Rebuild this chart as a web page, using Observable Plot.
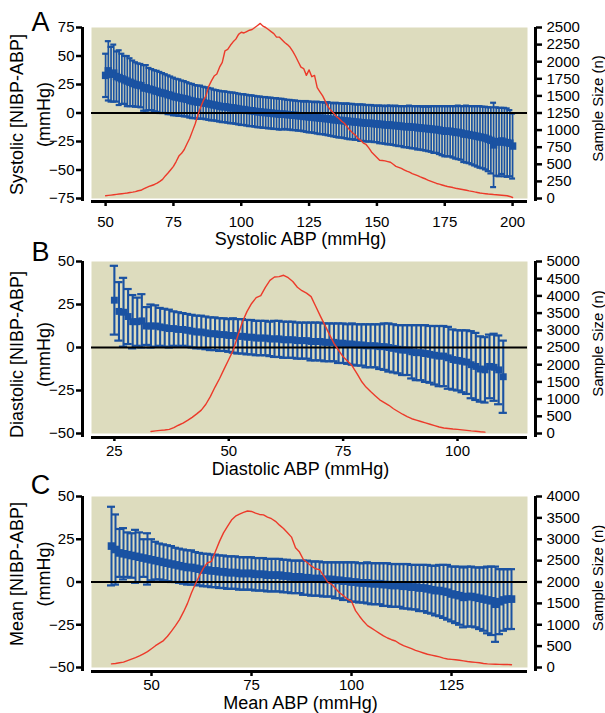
<!DOCTYPE html>
<html><head><meta charset="utf-8">
<script src="https://cdn.jsdelivr.net/npm/d3@7"></script>
<script src="https://cdn.jsdelivr.net/npm/@observablehq/plot@0.6"></script>
<style>
body{margin:0;background:#fff;}
#fig{position:relative;width:605px;height:713px;font-family:Arial,"Liberation Sans",sans-serif;}
#fig svg{position:absolute;left:0;overflow:visible;}
</style></head><body><div id="fig"></div>
<script>
// ---------- Panel A: Systolic ----------
const sysStart = 50;
const sysMean = [33,37,34,35,32,31,30,29,28,27, 26,25,24.5,24,22,22,21,20.5,19.5,19, 18,17.5,17,16,15.5,14.5,14,13.5,13,12.5,
 12,11,10.5,10,9.5,9.5,9,8.5,8,7.5, 7,6.5,6,5.5,5.5,5,4.5,4.5,4,3.5, 3,3,2.5,2,2,1.5,1,1,0.5,0.5,
 0,0,-0.5,-0.5,-1,-1,-1,-1.5,-1.5,-2, -2,-2.5,-2.5,-3,-3,-3.5,-3.5,-4,-4,-4.5, -4.5,-5,-5,-5.5,-6,-6,-6.5,-6.5,-7,-7,
 -7.5,-7.5,-8,-8,-8.5,-8.5,-9,-9,-9,-9.5, -9.5,-10,-10,-10.5,-10.5,-10.5,-11,-11,-11.5,-11.5, -12,-12,-12,-12.5,-12.5,-13,-13,-13.5,-13.5,-14,
 -14,-14.5,-14.5,-15,-15.5,-16,-16,-16,-16.5,-17, -17,-17.5,-18.5,-18.5,-19,-19.5,-20,-20.5,-21,-21.5, -22,-23,-24,-28,-25,-25.5,-24.5,-25.5,-26,-26.5, -29];
const sysSD = [19,26,24,25,22,24,22,21,22,21, 20,19.5,19,19,20,20,18.5,18,18,18, 18,17.5,17,17,16.5,16.5,16,16,15.5,15.5,
 15,15,15,14.5,14.5,14.5,14,14,14,14, 13.5,13.5,13.5,13.5,13.5,13.5,13.5,13.5,13.5,13.5, 13.5,13.5,13.5,13.5,13.5,13.5,13.5,13.5,13.5,13.5,
 13.5,13.5,13.5,13.5,13.5,13.5,13,13,13,13, 13,13,13,13,13.5,13.5,13.5,13.5,14,14, 14,14,14.5,14.5,14.5,15,15,15,15,15.5,
 15.5,15.5,15.5,15.5,16,16,16,16,16,16, 16,16.5,16.5,16.5,17,17,17,17.5,17.5,17.5, 18,18,18.5,18.5,18.5,19,19,19,19.5,19.5,
 20,20.5,20.5,21,21.5,22,22,22,22.5,23, 23.5,23.5,24.5,25,25,25.5,26,26.5,27,27, 27.5,28,29,37,30,30,29,30,30,29, 28.5];
const sysN = [40,45,50,55,60,65,70,75,80,88, 93,100,113,120,140,160,176,190,205,225, 250,280,330,372,420,470,540,620,660,716,
 800,880,985,1090,1220,1330,1430,1500,1640,1720, 1790,1820,1920,1990,2160,2180,2240,2290,2330,2400, 2430,2420,2440,2460,2470,2500,2530,2560,2520,2500,
 2470,2440,2410,2360,2360,2320,2280,2250,2210,2150, 2080,2000,1920,1900,1800,1880,1780,1800,1620,1560, 1500,1420,1340,1290,1250,1200,1170,1130,1100,1050,
 1000,960,930,880,850,810,790,740,680,640, 600,560,555,550,540,530,500,470,455,440, 420,400,385,365,350,333,315,300,285,265,
 250,235,220,210,198,186,176,168,160,150, 143,136,128,120,112,105,96,88,80,75, 70,65,62,58,55,52,48,44,40,30, 15];
const sysXTicks = [50,75,100,125,150,175,200];
const sysYTicks = [-75,-50,-25,0,25,50,75];
const sysNTicks = [0,250,500,750,1000,1250,1500,1750,2000,2250,2500];

// ---------- Panel B: Diastolic ----------
const diaStart = 25;
const diaMean = [27.5,21,20.5,18,15,15,15.5,12.5,12.5,12.5, 12,11.5,11,11,10.5,10.5,10,9.5,9,9, 8.5,8,8,7.5,7.5,7,7,6.5,6.5,6,
 6,5.5,5.5,5.5,5,5,5,4.5,4.5,4.5, 4,4,4,3.5,3.5,3.5,3,3,3,2.5, 2.5,2,2,1.5,1.5,1,1,1,0.5,0.5,
 0,-0.5,-1,-1.5,-1.5,-2.5,-3,-3,-3.5,-4, -4.5,-5,-5,-6,-7,-7.5,-8,-8.5,-10,-11, -12.5,-13,-11,-11.5,-13,-17];
const diaSD = [20,17,20,16,15.5,14,15.5,11,12.5,12, 11,11,11,10,10,9.5,9.5,9.5,9.5,9.5, 9.5,9.5,9.5,9.5,9.5,9.5,10,10,10,10,
 10,10,10,10,10,10.5,10.5,10.5,10.5,10.5, 10.5,10.5,10.5,11,11,11,11,11,11,11.5, 11.5,11.5,12,12,12,12.5,12.5,12.5,13,13.5,
 14,14,14,14.5,14.5,15.5,16,16,16.5,16.5, 17,17.5,17.5,18,17.5,17.5,18,18.5,19.5,19.5, 19,19,18.5,19.5,20,21];
const diaNStart = 33;
const diaN = [60,75,90,100,120,170,240,300,380,470, 570,680,850,1080,1350,1600,1880,2150,2430,2850,
 3250,3550,3780,3950,4010,4250,4450,4550,4560,4600, 4530,4420,4250,4150,4080,3980,3700,3420,3150,2880,
 2620,2420,2230,2100,1960,1750,1520,1350,1220,1100, 980,900,820,720,640,560,490,430,390,350,
 310,270,230,190,160,145,130,120,105,90, 75,65,50,40];
const diaXTicks = [25,50,75,100];
const diaYTicks = [-50,-25,0,25,50];
const diaNTicks = [0,500,1000,1500,2000,2500,3000,3500,4000,4500,5000];

// ---------- Panel C: Mean ----------
const mapStart = 40;
const mapMean = [21,19,17,16.5,16,15.5,15,14.5,14,13.5, 13,12.5,12,11.5,11,10.5,10,9.5,9,8.5, 8.5,8,7.5,7,7,6.5,6.5,6,6,5.5,
 5.5,5.5,5,5,5,5,4.5,4.5,4.5,4, 4,4,4,3.5,3.5,3,3,3,2.5,2.5, 2,2,2,1.5,1.5,1.5,1,1,0.5,0.5,
 0,0,-0.5,-0.5,-0.5,-1,-1,-1,-1.5,-1.5, -2,-2,-2,-2.5,-2.5,-3,-3,-3.5,-3.5,-4, -4.5,-5,-5,-5.5,-6,-7,-7.5,-8,-9,-8.5,
 -8.5,-9,-9.5,-10,-10.5,-11,-13,-11.5,-10.5,-10, -10];
const mapSD = [23,20.5,14,15,13,13,15.5,14.5,11,15, 12,11,10.5,10.5,10.5,10.5,10,10,10,10, 10,9.5,9.5,9.5,9.5,9.5,9.5,9.5,9.5,9.5,
 9.5,9.5,9.5,9.5,9.5,9.5,9.5,9.5,9.5,9.5, 9.5,9.5,9.5,9.5,9.5,9.5,9.5,9.5,10,10, 10,10,10,10,10,10,10.5,10.5,11,11,
 11.5,11.5,11.5,11.5,12,12,12,12,12.5,12.5, 12.5,12.5,12.5,13,13,13,13,13.5,13.5,14, 14,14.5,15,15.5,16,16,16.5,17,17.5,17.5,
 17.5,17.5,18,18.5,19.5,20,22,19,18,17.5, 17.5];
const mapN = [85,95,110,125,160,195,230,270,320,370, 440,510,570,630,730,850,980,1120,1300,1500, 1750,1960,2150,2330,2450,2480,2720,2950,3150,3300,
 3450,3540,3590,3630,3660,3650,3610,3580,3570,3520, 3480,3420,3330,3250,3150,3050,2800,2700,2520,2450, 2370,2310,2290,2150,2000,1950,1850,1750,1680,1600,
 1550,1330,1200,1080,980,920,860,800,740,690, 650,620,560,510,475,440,400,370,340,310, 290,270,250,220,200,190,180,170,155,140,
 130,120,110,95,85,80,75,72,70,70, 65];
const mapXTicks = [50,75,100,125];
const mapYTicks = [-50,-25,0,25,50];
const mapNTicks = [0,500,1000,1500,2000,2500,3000,3500,4000];

const BG = "#dddcbe", BLUE = "#1a52a2", RED = "#ec3a2a";
const FONT = "Arial, 'Liberation Sans', Helvetica, sans-serif";

function panel(c) {
  const pts = c.mean.map((m, i) => ({x: c.start + i, m, lo: m - c.sd[i], hi: m + c.sd[i]}));
  const [y0, y1] = c.yDomain;
  const toY = v => y0 + v / c.nMax * (y1 - y0);
  const toN = y => (y - y0) / (y1 - y0) * c.nMax;
  const red = c.n.map((v, i) => ({x: c.nStart + i, y: toY(v)}));
  const ib = c.ib;
  const svg = Plot.plot({
    width: 605, height: c.height,
    marginTop: c.mt, marginBottom: c.mb, marginLeft: 82, marginRight: 70,
    x: {domain: c.xDomain, insetLeft: 9, insetRight: 8},
    y: {domain: c.yDomain, insetBottom: ib},
    style: {fontFamily: FONT, background: "transparent", overflow: "visible", color: "black"},
    marks: [
      Plot.frame({fill: BG, stroke: "none", insetLeft: 9, insetRight: 8, insetBottom: ib}),
      Plot.ruleX(pts, {x: "x", y1: "lo", y2: "hi", stroke: BLUE, strokeWidth: c.sw}),
      Plot.ruleY(pts, {y: "hi", x1: d => d.x - c.cap, x2: d => d.x + c.cap, stroke: BLUE, strokeWidth: 2.2}),
      Plot.ruleY(pts, {y: "lo", x1: d => d.x - c.cap, x2: d => d.x + c.cap, stroke: BLUE, strokeWidth: 2.2}),
      Plot.dot(pts, {x: "x", y: "m", symbol: "square", r: c.r, fill: BLUE, stroke: "none"}),
      Plot.ruleY([0], {stroke: "black", strokeWidth: 2, insetLeft: 9, insetRight: 8}),
      Plot.line(red, {x: "x", y: "y", stroke: RED, strokeWidth: 1.4}),
      Plot.ruleX([c.xDomain[0]], {dx: -9, stroke: "black", strokeWidth: 3}),
      Plot.ruleX([c.xDomain[1]], {dx: 8, stroke: "black", strokeWidth: 3}),
      Plot.ruleY([y0], {dy: ib, stroke: "black", strokeWidth: 3, insetLeft: 9, insetRight: 8}),
      Plot.axisY({ticks: c.yTicks, tickSize: 6, tickPadding: 2, fontSize: 15, strokeWidth: 2.5, label: null}),
      Plot.axisY({anchor: "right", ticks: c.nTicks.map(toY), tickFormat: d => String(Math.round(toN(d))),
        tickSize: 6, tickPadding: 5, fontSize: 15, strokeWidth: 2.5, label: null}),
      Plot.axisX({ticks: c.xTicks, tickSize: c.xts, tickPadding: c.xtp, fontSize: 15, strokeWidth: 2.5, label: null}),
      Plot.text([c.xLabel], {frameAnchor: "bottom", textAnchor: "middle", lineAnchor: "middle", dx: -8.5, dy: c.xlDy, fontSize: 18}),
      Plot.text([c.yLabel], {frameAnchor: "left", textAnchor: "middle", lineAnchor: "middle", rotate: -90, dx: -65, dy: c.ylDy, fontSize: 18}),
      Plot.text(["(mmHg)"], {frameAnchor: "left", textAnchor: "middle", lineAnchor: "middle", rotate: -90, dx: -38, dy: c.ylDy, fontSize: 18}),
      Plot.text(["Sample Size (n)"], {frameAnchor: "right", textAnchor: "middle", lineAnchor: "middle", rotate: -90, dx: 63, dy: -6, fontSize: 15}),
      Plot.text([c.letter], {frameAnchor: "top-left", textAnchor: "middle", lineAnchor: "bottom", dx: -42, dy: c.letDy, fontSize: 27})
    ]
  });
  svg.style.top = c.top + "px";
  return svg;
}

const fig = document.getElementById("fig");
fig.appendChild(panel({top: 0, height: 245, mt: 27, mb: 44, ib: 3, xDomain: [44.8, 205.5], yDomain: [-75, 75],
  start: sysStart, mean: sysMean, sd: sysSD, nStart: sysStart, n: sysN, nMax: 2500,
  xTicks: sysXTicks, yTicks: sysYTicks, nTicks: sysNTicks, cap: 1.1, sw: 1.7, r: 4.2, xts: 5, xtp: 10,
  xLabel: "Systolic ABP (mmHg)", yLabel: "Systolic [NIBP-ABP]", xlDy: 38, ylDy: 0, letter: "A", letDy: 3}));
fig.appendChild(panel({top: 245, height: 230, mt: 16, mb: 38, ib: 4, xDomain: [20, 115.3], yDomain: [-50, 50],
  start: diaStart, mean: diaMean, sd: diaSD, nStart: diaNStart, n: diaN, nMax: 5000,
  xTicks: diaXTicks, yTicks: diaYTicks, nTicks: diaNTicks, cap: 0.9, sw: 2.1, r: 3.9, xts: 4, xtp: 4,
  xLabel: "Diastolic ABP (mmHg)", yLabel: "Diastolic [NIBP-ABP]", xlDy: 32, ylDy: 5, letter: "B", letDy: -1}));
fig.appendChild(panel({top: 475, height: 238, mt: 21, mb: 42, ib: 4, xDomain: [35, 144], yDomain: [-50, 50],
  start: mapStart, mean: mapMean, sd: mapSD, nStart: mapStart, n: mapN, nMax: 4000,
  xTicks: mapXTicks, yTicks: mapYTicks, nTicks: mapNTicks, cap: 1.0, sw: 2.0, r: 4.3, xts: 5, xtp: 3,
  xLabel: "Mean ABP (mmHg)", yLabel: "Mean [NIBP-ABP]", xlDy: 32, ylDy: -10, letter: "C", letDy: -3}));
</script></body></html>
